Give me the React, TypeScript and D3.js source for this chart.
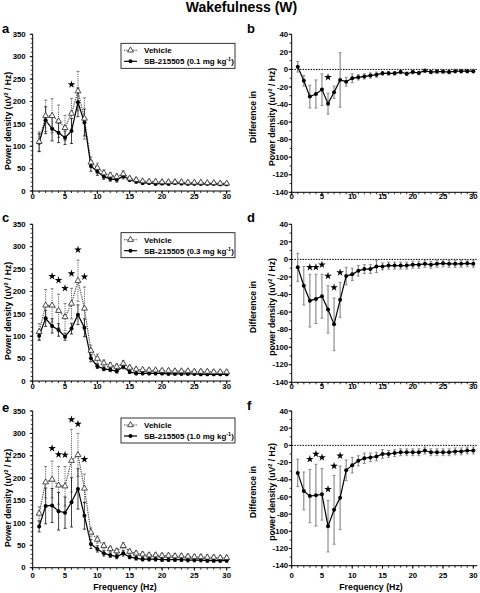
import React from 'react';
import * as d3 from 'd3';

const FONT = '"Liberation Sans", Arial, Helvetica, sans-serif';

// ---------- data ----------
const freqHz = [1, 2, 3, 4, 5, 6, 7, 8, 9, 10, 11, 12, 13, 14, 15, 16, 17, 18, 19, 20, 21, 22, 23, 24, 25, 26, 27, 28, 29, 30];
const xTickLabels = [0, 5, 10, 15, 20, 25, 30];
const powerTicks = [0, 50, 100, 150, 200, 250, 300, 350];
const diffTicks = [40, 20, 0, -20, -40, -60, -80, -100, -120, -140];

// panel a (0.1 mg/kg)
const vehA = [110, 168, 168, 156, 141, 173, 223, 162, 64, 52, 40, 35, 32, 38, 28, 25, 22, 21, 21, 20, 20, 20, 20, 19, 19, 19, 18, 18, 17, 17];
const vehAErr = [22, 35, 38, 36, 28, 34, 44, 46, 12, 10, 7, 6, 6, 7, 5, 4, 4, 4, 4, 4, 4, 4, 4, 3, 3, 3, 3, 3, 3, 3];
const sbA = [108, 158, 139, 130, 119, 134, 198, 153, 56, 43, 32, 27, 25, 33, 25, 21, 18, 18, 16, 17, 16, 18, 17, 16, 16, 16, 16, 16, 15, 15];
const sbAErr = [20, 30, 27, 22, 15, 28, 32, 30, 12, 8, 6, 5, 5, 6, 4, 4, 3, 3, 3, 3, 3, 3, 3, 3, 3, 3, 3, 3, 3, 3];
const starHzA = [6];
const starValA = [238];

// panel b
const diffB = [3, -13, -31, -28, -23, -39, -26, -12, -14, -10, -9, -8, -7, -6, -4.5, -4.5, -4.5, -3, -5, -3, -4, -1.5, -3, -2.5, -2.5, -3, -2, -2, -2, -2];
const diffBErr = [6, 6, 13, 16, 18, 12, 7, 31, 5, 5, 3, 3, 3, 3, 2, 2, 2, 2, 2, 2, 2, 2, 2, 2, 2, 2, 2, 2, 2, 2];
const starHzB = [6];
const starValB = [-9];

// panel c (0.3 mg/kg)
const vehC = [110, 169, 169, 157, 143, 173, 224, 162, 68, 50, 40, 35, 32, 39, 30, 26, 25, 24, 24, 23, 23, 22, 22, 22, 21, 21, 21, 20, 20, 20];
const vehCErr = [18, 35, 37, 37, 30, 34, 46, 48, 12, 10, 7, 6, 6, 7, 5, 5, 4, 4, 4, 4, 4, 4, 4, 4, 4, 4, 4, 4, 4, 4];
const sbC = [101, 140, 123, 114, 99, 117, 148, 119, 51, 33, 27, 25, 22, 32, 20, 17, 17, 17, 17, 17, 16, 16, 16, 16, 16, 15, 15, 15, 15, 15];
const sbCErr = [10, 18, 16, 14, 8, 12, 22, 20, 8, 5, 4, 4, 4, 5, 3, 3, 3, 3, 3, 3, 3, 3, 3, 3, 3, 3, 3, 3, 3, 3];
const starHzC = [3, 4, 5, 6, 7, 8];
const starValC = [234, 225, 207, 240, 293, 233];

// panel d
const diffD = [-9, -30, -47, -45, -42, -57, -74, -46, -19, -17, -13, -11, -11, -8, -8, -7, -7, -7, -7, -6, -6, -5, -6, -5, -4.5, -5, -5, -5, -4.5, -5];
const diffDErr = [16, 22, 30, 28, 25, 27, 30, 20, 10, 7, 6, 5, 5, 7, 4, 4, 4, 4, 4, 4, 4, 4, 4, 4, 4, 4, 4, 4, 4, 4];
const starHzD = [3, 4, 5, 6, 7, 8];
const starValD = [-9, -9, -6, -19, -32, -15];

// panel e (1.0 mg/kg)
const vehE = [121, 191, 197, 184, 182, 239, 252, 177, 79, 63, 49, 42, 37, 49, 36, 32, 30, 28, 28, 27, 27, 26, 26, 25, 24, 24, 23, 23, 22, 22];
const vehEErr = [15, 35, 41, 42, 44, 70, 48, 32, 10, 8, 7, 6, 6, 7, 5, 5, 5, 5, 5, 5, 5, 5, 5, 5, 5, 5, 5, 5, 5, 5];
const sbE = [92, 138, 139, 126, 123, 146, 176, 116, 53, 42, 32, 28, 25, 32, 24, 21, 19, 19, 19, 18, 18, 18, 18, 17, 17, 17, 16, 16, 16, 16];
const sbEErr = [12, 40, 38, 42, 35, 55, 45, 30, 10, 7, 6, 5, 5, 6, 4, 4, 4, 4, 4, 4, 4, 4, 4, 4, 4, 4, 4, 4, 4, 4];
const starHzE = [3, 4, 5, 6, 7, 8];
const starValE = [267, 253, 252, 331, 321, 242];

// panel f
const diffF = [-32, -53, -59, -58, -57, -94, -75, -61, -29, -23, -18, -15, -14, -13, -10, -10, -9, -8, -8, -8, -8, -6, -8, -8, -8, -8, -7, -7, -6, -6];
const diffFErr = [16, 22, 31, 36, 30, 30, 40, 37, 12, 9, 6, 6, 5, 5, 5, 4, 4, 4, 4, 4, 4, 4, 4, 4, 4, 4, 4, 4, 4, 4];
const starHzF = [3, 4, 5, 6, 7, 8];
const starValF = [-16, -10, -14, -51, -24, -12];

const seriesNames = ['Vehicle', 'SB-215505'];
const doses = ['0.1', '0.3', '1.0'];
const panelLetters = ['a', 'b', 'c', 'd', 'e', 'f'];

// ---------- helpers ----------
const triPath = d3.symbol().type(d3.symbolTriangle).size(15)() as string;
const starPath = d3.symbol().type(d3.symbolStar).size(18)() as string;

type XS = d3.ScaleLinear<number, number>;

function Stars({ xs, ys, hz, vals }: { xs: XS; ys: XS; hz: number[]; vals: number[] }) {
  return (
    <g>
      {hz.map((h, i) => (
        <path key={i} d={starPath} transform={`translate(${xs(h)},${ys(vals[i])})`} fill="#000" />
      ))}
    </g>
  );
}

function ErrBars({ xs, ys, vals, errs, color, dash, width }: { xs: XS; ys: XS; vals: number[]; errs: number[]; color: string; dash?: string; width: number }) {
  return (
    <g>
      {freqHz.map((h, i) => {
        const cx = xs(h);
        const t = ys(vals[i] + errs[i]);
        const b = ys(vals[i] - errs[i]);
        return (
          <g key={i}>
            <line x1={cx} x2={cx} y1={t} y2={b} stroke={color} strokeWidth={width} strokeDasharray={dash} />
            <line x1={cx - 1.5} x2={cx + 1.5} y1={t} y2={t} stroke={color} strokeWidth={0.8} />
            <line x1={cx - 1.5} x2={cx + 1.5} y1={b} y2={b} stroke={color} strokeWidth={0.8} />
          </g>
        );
      })}
    </g>
  );
}

function XAxis({ xs, y, labelBase }: { xs: XS; y: number; labelBase: number }) {
  const minor = xs.ticks(30);
  return (
    <g>
      <line x1={xs(0)} x2={xs(30) + 4} y1={y} y2={y} stroke="#000" strokeWidth={1} />
      {minor.map((t) => (
        <line key={t} x1={xs(t)} x2={xs(t)} y1={y} y2={y + 2} stroke="#000" strokeWidth={0.8} />
      ))}
      {xTickLabels.map((t) => (
        <g key={t}>
          <line x1={xs(t)} x2={xs(t)} y1={y} y2={y + 3} stroke="#000" strokeWidth={0.9} />
          <text x={xs(t)} y={labelBase} textAnchor="middle" fontSize={7.8} fontWeight="bold" fontFamily={FONT}>{t}</text>
        </g>
      ))}
    </g>
  );
}

function YAxis({ ys, x, ticks, gap, minorCount }: { ys: XS; x: number; ticks: number[]; gap: number; minorCount: number }) {
  const [d0, d1] = ys.domain();
  const minor = ys.ticks(minorCount);
  return (
    <g>
      <line x1={x} x2={x} y1={ys(d0)} y2={ys(d1)} stroke="#000" strokeWidth={1} />
      {minor.map((t) => (
        <line key={t} x1={x - 2} x2={x} y1={ys(t)} y2={ys(t)} stroke="#000" strokeWidth={0.8} />
      ))}
      {ticks.map((t) => (
        <g key={t}>
          <line x1={x - 3} x2={x} y1={ys(t)} y2={ys(t)} stroke="#000" strokeWidth={0.9} />
          <text x={x - gap} y={ys(t) + 2.7} textAnchor="end" fontSize={7.8} fontWeight="bold" fontFamily={FONT}>{t}</text>
        </g>
      ))}
    </g>
  );
}

function AxisTitle({ x, y, lower }: { x: number; y: number; lower?: boolean }) {
  return (
    <text transform={`translate(${x},${y}) rotate(-90)`} textAnchor="middle" fontSize={8.6} fontWeight="bold" fontFamily={FONT}>
      {lower ? 'power' : 'Power'} density (uV
      <tspan dy={-3} fontSize={5.5}>2</tspan>
      <tspan dy={3}> / Hz)</tspan>
    </text>
  );
}

type PowerProps = {
  yRange: [number, number];
  veh: number[]; vehErr: number[]; sb: number[]; sbErr: number[];
  starHz: number[]; starVal: number[];
  legendTop: number; dose: string; letter: string; letterY: number; labelBase: number; titleY: number;
};

const leftX = d3.scaleLinear().domain([0, 30]).range([32.7, 226.7]);
const rightX = d3.scaleLinear().domain([0, 30]).range([291.7, 473.3]);

function PowerPanel(p: PowerProps) {
  const xs = leftX;
  const ys = d3.scaleLinear().domain([0, 350]).range(p.yRange);
  const line = d3.line<number>().x((_, i) => xs(freqHz[i])).y((d) => ys(d));
  const lx = 121;
  const r1 = p.legendTop + 7;
  const r2 = p.legendTop + 18;
  return (
    <g>
      <text x={2} y={p.letterY} fontSize={13} fontWeight="bold" fontFamily={FONT}>{p.letter}</text>
      <AxisTitle x={11} y={p.titleY} />
      <YAxis ys={ys} x={xs(0)} ticks={powerTicks} gap={7} minorCount={35} />
      <XAxis xs={xs} y={ys(0)} labelBase={p.labelBase} />
      <ErrBars xs={xs} ys={ys} vals={p.veh} errs={p.vehErr} color="#666" dash="1.2,1" width={1} />
      <ErrBars xs={xs} ys={ys} vals={p.sb} errs={p.sbErr} color="#111" width={0.8} />
      <path d={line(p.veh) as string} fill="none" stroke="#444" strokeWidth={1.1} strokeDasharray="1.3,1" />
      <path d={line(p.sb) as string} fill="none" stroke="#000" strokeWidth={1.2} />
      {p.sb.map((v, i) => (
        <circle key={i} cx={xs(freqHz[i])} cy={ys(v)} r={2} fill="#000" />
      ))}
      {p.veh.map((v, i) => (
        <path key={i} d={triPath} transform={`translate(${xs(freqHz[i])},${ys(v)})`} fill="#fff" stroke="#222" strokeWidth={0.8} />
      ))}
      <Stars xs={xs} ys={ys} hz={p.starHz} vals={p.starVal} />
      {/* legend */}
      <rect x={lx} y={p.legendTop} width={114} height={25} fill="#fff" stroke="#000" strokeWidth={0.8} />
      <line x1={lx + 3} x2={lx + 16} y1={r1} y2={r1} stroke="#444" strokeWidth={1.1} strokeDasharray="1.3,1" />
      <path d={triPath} transform={`translate(${lx + 9.5},${r1})`} fill="#fff" stroke="#222" strokeWidth={0.8} />
      <text x={lx + 23} y={r1 + 2.8} fontSize={8} fontWeight="bold" fontFamily={FONT}>{seriesNames[0]}</text>
      <line x1={lx + 3} x2={lx + 16} y1={r2} y2={r2} stroke="#000" strokeWidth={1.2} />
      <circle cx={lx + 9.5} cy={r2} r={2} fill="#000" />
      <text x={lx + 23} y={r2 + 2.8} fontSize={8} fontWeight="bold" fontFamily={FONT}>
        {seriesNames[1]} ({p.dose} mg kg
        <tspan dy={-3} fontSize={5.5}>-1</tspan>
        <tspan dy={3}>)</tspan>
      </text>
    </g>
  );
}

type DiffProps = {
  yRange: [number, number];
  diff: number[]; diffErr: number[]; starHz: number[]; starVal: number[];
  letter: string; letterY: number; labelBase: number; titleY: number; lower: boolean;
};

function DiffPanel(p: DiffProps) {
  const xs = rightX;
  const ys = d3.scaleLinear().domain([-140, 40]).range(p.yRange);
  const line = d3.line<number>().x((_, i) => xs(freqHz[i])).y((d) => ys(d));
  return (
    <g>
      <text x={247} y={p.letterY} fontSize={13} fontWeight="bold" fontFamily={FONT}>{p.letter}</text>
      <text transform={`translate(256,${p.titleY}) rotate(-90)`} textAnchor="middle" fontSize={8.6} fontWeight="bold" fontFamily={FONT}>Difference in</text>
      <AxisTitle x={275} y={p.titleY} lower={p.lower} />
      <YAxis ys={ys} x={xs(0)} ticks={diffTicks} gap={3.5} minorCount={18} />
      <XAxis xs={xs} y={ys(-140)} labelBase={p.labelBase} />
      <line x1={xs(0)} x2={xs(30) + 4} y1={ys(0)} y2={ys(0)} stroke="#000" strokeWidth={1} strokeDasharray="1.5,1.2" />
      <ErrBars xs={xs} ys={ys} vals={p.diff} errs={p.diffErr} color="#777" width={1} />
      <path d={line(p.diff) as string} fill="none" stroke="#000" strokeWidth={1.2} />
      {p.diff.map((v, i) => (
        <circle key={i} cx={xs(freqHz[i])} cy={ys(v)} r={2} fill="#000" />
      ))}
      <Stars xs={xs} ys={ys} hz={p.starHz} vals={p.starVal} />
    </g>
  );
}

export default function App() {
  return (
    <svg width={480} height={593} style={{ position: 'absolute', left: 0, top: 0, background: '#fff' }}>
      <rect width={480} height={593} fill="#fff" />
      <text x={241.5} y={11.5} textAnchor="middle" fontSize={14} fontWeight="bold" fontFamily={FONT}>Wakefulness (W)</text>

      <PowerPanel yRange={[191, 34.3]} veh={vehA} vehErr={vehAErr} sb={sbA} sbErr={sbAErr}
        starHz={starHzA} starVal={starValA} legendTop={43.3} dose={doses[0]} letter={panelLetters[0]}
        letterY={33} labelBase={199} titleY={121} />
      <DiffPanel yRange={[192.3, 34.3]} diff={diffB} diffErr={diffBErr} starHz={starHzB} starVal={starValB}
        letter={panelLetters[1]} letterY={33} labelBase={199} titleY={117} lower={false} />

      <PowerPanel yRange={[381, 224.3]} veh={vehC} vehErr={vehCErr} sb={sbC} sbErr={sbCErr}
        starHz={starHzC} starVal={starValC} legendTop={232.7} dose={doses[1]} letter={panelLetters[2]}
        letterY={222} labelBase={389} titleY={311} />
      <DiffPanel yRange={[382.3, 224.3]} diff={diffD} diffErr={diffDErr} starHz={starHzD} starVal={starValD}
        letter={panelLetters[3]} letterY={222} labelBase={389} titleY={307} lower={true} />

      <PowerPanel yRange={[567.7, 411]} veh={vehE} vehErr={vehEErr} sb={sbE} sbErr={sbEErr}
        starHz={starHzE} starVal={starValE} legendTop={418} dose={doses[2]} letter={panelLetters[4]}
        letterY={412} labelBase={577.5} titleY={498} />
      <DiffPanel yRange={[565.7, 411]} diff={diffF} diffErr={diffFErr} starHz={starHzF} starVal={starValF}
        letter={panelLetters[5]} letterY={410} labelBase={577.5} titleY={492} lower={true} />

      <text x={125} y={590} textAnchor="middle" fontSize={8.8} fontWeight="bold" fontFamily={FONT}>Frequency (Hz)</text>
      <text x={371} y={590} textAnchor="middle" fontSize={8.8} fontWeight="bold" fontFamily={FONT}>Frequency (Hz)</text>
    </svg>
  );
}
